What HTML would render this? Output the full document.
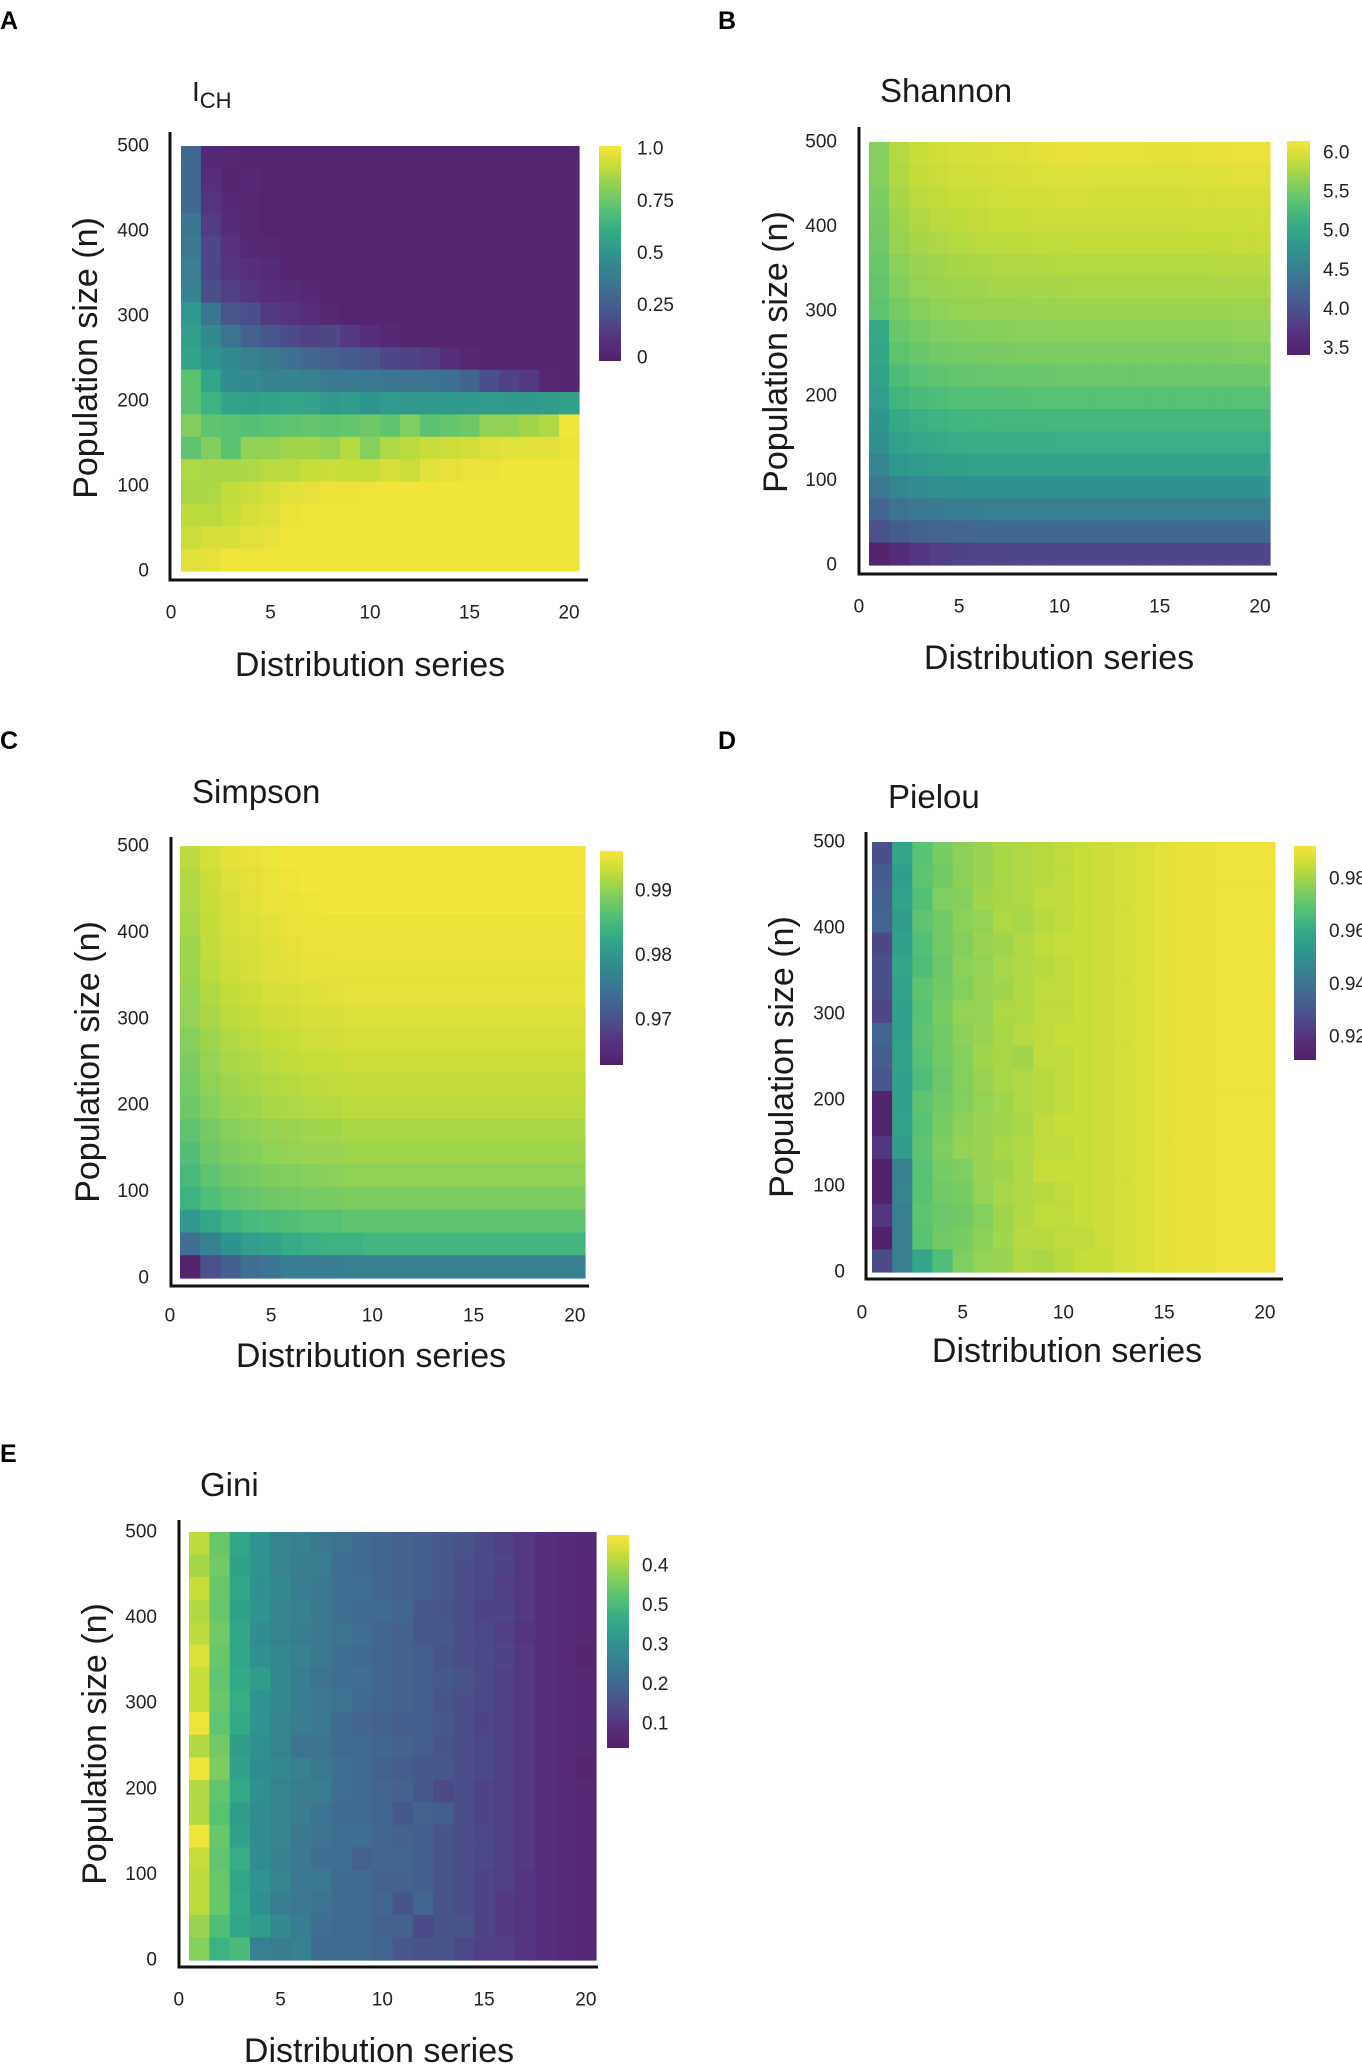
<!DOCTYPE html>
<html><head><meta charset="utf-8">
<style>
html,body{margin:0;padding:0;background:#fff;}
svg{display:block;font-family:"Liberation Sans",sans-serif;}
.tick{font-size:19px;fill:#222;}
.cbl{font-size:19px;fill:#222;}
.ttl{font-size:33px;fill:#1a1a1a;}
.axt{font-size:34px;fill:#1a1a1a;}
.let{font-size:25px;font-weight:bold;fill:#000;}
</style></head>
<body>
<svg id="fig" width="1362" height="2066" viewBox="0 0 1362 2066" xmlns="http://www.w3.org/2000/svg">
<defs></defs>
</svg>
<script>
// ---- shared axis data ----
const xTicks = [0, 5, 10, 15, 20];
const yTicks = [0, 100, 200, 300, 400, 500];
const nCols = 20;

// ---- Panel A: I_CH ----
const ichDomain = [-0.015, 1.015];
const ichCbTicks = [1.0, 0.75, 0.5, 0.25, 0];
const ichCbLabels = ["1.0", "0.75", "0.5", "0.25", "0"];
const ichData = [
[.30,.05,.03,.02,.02,.02,.02,.02,.02,.02,.02,.02,.02,.02,.02,.02,.02,.02,.02,.02],
[.30,.08,.02,.04,.02,.02,.02,.02,.02,.02,.02,.02,.02,.02,.02,.02,.02,.02,.02,.02],
[.30,.10,.04,.03,.02,.02,.02,.02,.02,.02,.02,.02,.02,.02,.02,.02,.02,.02,.02,.02],
[.36,.13,.06,.03,.02,.02,.02,.02,.02,.02,.02,.02,.02,.02,.02,.02,.02,.02,.02,.02],
[.38,.17,.09,.05,.03,.02,.02,.02,.02,.02,.02,.02,.02,.02,.02,.02,.02,.02,.02,.02],
[.40,.17,.10,.08,.06,.02,.02,.02,.02,.02,.02,.02,.02,.02,.02,.02,.02,.02,.02,.02],
[.42,.20,.14,.10,.07,.06,.04,.02,.02,.02,.02,.02,.02,.02,.02,.02,.02,.02,.02,.02],
[.52,.36,.22,.20,.12,.10,.07,.03,.02,.02,.02,.02,.02,.02,.02,.02,.02,.02,.02,.02],
[.55,.45,.35,.27,.22,.18,.15,.17,.12,.08,.04,.02,.02,.02,.02,.02,.02,.02,.02,.02],
[.57,.50,.45,.40,.38,.34,.30,.27,.25,.22,.17,.15,.13,.08,.03,.02,.02,.02,.02,.02],
[.72,.58,.47,.45,.42,.42,.40,.38,.38,.37,.36,.35,.35,.34,.28,.20,.15,.12,.03,.02],
[.72,.64,.57,.56,.57,.58,.57,.52,.54,.50,.53,.52,.52,.52,.52,.53,.52,.52,.53,.56],
[.80,.73,.72,.71,.72,.73,.74,.73,.74,.76,.73,.80,.72,.74,.76,.83,.83,.86,.88,1.0],
[.73,.80,.72,.83,.83,.86,.86,.84,.89,.81,.88,.90,.92,.93,.94,.96,.97,.97,.97,.99],
[.88,.87,.87,.88,.90,.90,.92,.93,.92,.92,.95,.93,.97,.98,.99,.99,1,1,1,1],
[.87,.88,.91,.93,.95,.97,.98,.99,.99,1,1,1,1,1,1,1,1,1,1,1],
[.90,.90,.92,.95,.96,.99,1,1,1,1,1,1,1,1,1,1,1,1,1,1],
[.93,.95,.95,.97,.98,1,1,1,1,1,1,1,1,1,1,1,1,1,1,1],
[.97,.98,1,1,1,1,1,1,1,1,1,1,1,1,1,1,1,1,1,1]
];

// ---- Panel B: Shannon ----
const shannonDomain = [3.42, 6.15];
const shannonCbTicks = [6.0, 5.5, 5.0, 4.5, 4.0, 3.5];
const shannonCbLabels = ["6.0", "5.5", "5.0", "4.5", "4.0", "3.5"];
const shannonData = [
[5.60,5.82,5.90,5.95,5.97,5.99,6.00,6.02,6.04,6.06,6.06,6.05,6.05,6.05,6.04,6.04,6.05,6.06,6.08,6.08],
[5.60,5.80,5.88,5.92,5.94,5.96,5.98,5.99,6.00,6.01,6.01,6.00,6.00,6.00,6.00,6.00,6.01,6.02,6.03,6.03],
[5.55,5.76,5.84,5.88,5.90,5.92,5.94,5.95,5.96,5.97,5.97,5.96,5.96,5.96,5.96,5.96,5.97,5.97,5.98,5.98],
[5.52,5.72,5.80,5.84,5.86,5.88,5.90,5.91,5.92,5.92,5.92,5.92,5.92,5.92,5.92,5.92,5.93,5.93,5.93,5.94],
[5.50,5.68,5.76,5.80,5.82,5.84,5.85,5.86,5.87,5.87,5.88,5.88,5.88,5.88,5.88,5.88,5.88,5.88,5.89,5.89],
[5.45,5.62,5.70,5.74,5.76,5.78,5.80,5.80,5.81,5.82,5.82,5.82,5.82,5.82,5.82,5.82,5.82,5.83,5.83,5.83],
[5.42,5.58,5.66,5.70,5.72,5.73,5.75,5.75,5.76,5.76,5.77,5.77,5.77,5.77,5.77,5.77,5.77,5.77,5.78,5.78],
[5.38,5.52,5.60,5.64,5.66,5.68,5.69,5.70,5.70,5.71,5.71,5.71,5.71,5.71,5.71,5.71,5.71,5.71,5.72,5.72],
[5.05,5.45,5.52,5.56,5.58,5.60,5.61,5.62,5.62,5.63,5.63,5.63,5.63,5.63,5.63,5.63,5.63,5.63,5.64,5.64],
[5.00,5.38,5.45,5.49,5.51,5.52,5.53,5.54,5.54,5.55,5.55,5.55,5.55,5.55,5.55,5.55,5.55,5.55,5.56,5.56],
[4.95,5.28,5.36,5.40,5.42,5.43,5.44,5.45,5.45,5.46,5.46,5.46,5.46,5.46,5.46,5.46,5.46,5.46,5.46,5.47],
[4.90,5.18,5.26,5.30,5.32,5.33,5.34,5.34,5.35,5.35,5.35,5.35,5.35,5.35,5.35,5.35,5.35,5.35,5.35,5.35],
[4.80,5.05,5.12,5.16,5.18,5.19,5.20,5.20,5.20,5.21,5.21,5.21,5.21,5.21,5.21,5.21,5.21,5.21,5.21,5.21],
[4.72,4.95,5.02,5.06,5.08,5.09,5.10,5.10,5.10,5.11,5.11,5.11,5.11,5.11,5.11,5.11,5.11,5.11,5.11,5.11],
[4.60,4.82,4.88,4.92,4.94,4.95,4.96,4.96,4.96,4.97,4.97,4.97,4.97,4.97,4.97,4.97,4.97,4.97,4.97,4.97],
[4.45,4.62,4.68,4.72,4.74,4.75,4.76,4.76,4.76,4.76,4.76,4.76,4.76,4.76,4.76,4.76,4.76,4.76,4.76,4.76],
[4.22,4.38,4.44,4.48,4.50,4.51,4.52,4.52,4.52,4.52,4.52,4.52,4.52,4.52,4.52,4.52,4.52,4.52,4.52,4.52],
[4.00,4.12,4.18,4.22,4.24,4.25,4.26,4.26,4.26,4.26,4.26,4.26,4.26,4.26,4.26,4.26,4.26,4.26,4.26,4.26],
[3.45,3.60,3.75,3.82,3.86,3.88,3.89,3.90,3.90,3.90,3.90,3.90,3.90,3.90,3.90,3.90,3.90,3.90,3.90,3.90]
];

// ---- Panel C: Simpson ----
const simpsonDomain = [0.963, 0.9962];
const simpsonCbTicks = [0.99, 0.98, 0.97];
const simpsonCbLabels = ["0.99", "0.98", "0.97"];
const simpsonData = [
[.9925,.9940,.9948,.9952,.9956,.996,.996,.996,.996,.996,.996,.996,.996,.996,.996,.996,.996,.996,.996,.996],
[.992,.9935,.9945,.995,.9953,.9957,.996,.996,.996,.996,.996,.996,.996,.996,.996,.996,.996,.996,.996,.996],
[.9918,.9933,.9943,.9948,.9952,.9955,.9957,.996,.996,.996,.996,.996,.996,.996,.996,.996,.996,.996,.996,.996],
[.9915,.993,.994,.9945,.9948,.9952,.9955,.9955,.9955,.9955,.9955,.9955,.9955,.9955,.9955,.9955,.9955,.9955,.9955,.9955],
[.991,.9928,.9937,.9942,.9946,.995,.9952,.9953,.9955,.9955,.9955,.9955,.9955,.9955,.9955,.9955,.9955,.9955,.9955,.9955],
[.991,.9925,.9935,.994,.9944,.9947,.995,.995,.995,.995,.995,.995,.995,.995,.995,.995,.995,.995,.995,.995],
[.9905,.992,.993,.9935,.994,.9943,.9946,.9947,.995,.995,.995,.995,.995,.995,.995,.995,.995,.995,.995,.995],
[.9903,.9917,.9926,.993,.9935,.9938,.9941,.9942,.9945,.9945,.9945,.9945,.9945,.9945,.9945,.9945,.9945,.9945,.9945,.9945],
[.9895,.991,.992,.9925,.993,.9933,.9936,.9937,.994,.994,.994,.994,.994,.994,.994,.994,.994,.994,.994,.994],
[.989,.9905,.9915,.992,.9925,.9928,.9931,.9932,.9935,.9935,.9935,.9935,.9935,.9935,.9935,.9935,.9935,.9935,.9935,.9935],
[.9885,.990,.991,.9915,.992,.9923,.9926,.9927,.993,.993,.993,.993,.993,.993,.993,.993,.993,.993,.993,.993],
[.988,.9895,.9905,.991,.9915,.9918,.9921,.9922,.9925,.9925,.9925,.9925,.9925,.9925,.9925,.9925,.9925,.9925,.9925,.9925],
[.987,.9885,.9895,.990,.9905,.9908,.9911,.9912,.9915,.9915,.9915,.9915,.9915,.9915,.9915,.9915,.9915,.9915,.9915,.9915],
[.986,.988,.989,.9895,.990,.9903,.9906,.9907,.991,.991,.991,.991,.991,.991,.991,.991,.991,.991,.991,.991],
[.985,.987,.988,.9885,.989,.9893,.9896,.9897,.990,.990,.990,.990,.990,.990,.990,.990,.990,.990,.990,.990],
[.984,.986,.987,.9875,.988,.9883,.9886,.9887,.989,.989,.989,.989,.989,.989,.989,.989,.989,.989,.989,.989],
[.980,.9825,.984,.985,.9855,.986,.9865,.9865,.987,.987,.987,.987,.987,.987,.987,.987,.987,.987,.987,.987],
[.974,.977,.9795,.981,.982,.983,.9835,.984,.984,.9845,.9845,.9845,.9845,.9845,.9845,.9845,.9845,.9845,.9845,.9845],
[.9635,.970,.972,.974,.975,.976,.976,.976,.9765,.9765,.9765,.9765,.9765,.9765,.9765,.9765,.9765,.9765,.9765,.9765]
];

// ---- Panel D: Pielou ----
const pielouDomain = [0.9113, 0.9925];
const pielouCbTicks = [0.98, 0.96, 0.94, 0.92];
const pielouCbLabels = ["0.98", "0.96", "0.94", "0.92"];
const pielouData = [
[.928,.958,.969,.974,.977,.979,.981,.982,.983,.984,.985,.986,.987,.988,.989,.990,.990,.991,.991,.991],
[.932,.955,.970,.973,.977,.979,.981,.982,.983,.984,.985,.986,.987,.988,.989,.990,.990,.991,.991,.991],
[.934,.957,.968,.975,.976,.980,.981,.982,.984,.984,.985,.986,.987,.988,.989,.990,.990,.991,.991,.991],
[.935,.955,.970,.973,.977,.978,.982,.981,.983,.984,.985,.986,.987,.988,.989,.990,.990,.991,.991,.991],
[.926,.956,.968,.973,.976,.979,.980,.982,.984,.985,.985,.986,.987,.988,.989,.990,.990,.991,.991,.991],
[.928,.958,.967,.972,.977,.978,.981,.982,.983,.984,.985,.986,.987,.988,.989,.990,.990,.991,.991,.991],
[.928,.957,.970,.973,.976,.979,.980,.982,.984,.984,.985,.986,.987,.988,.989,.990,.990,.991,.991,.991],
[.925,.956,.969,.974,.978,.978,.982,.982,.984,.984,.985,.986,.987,.988,.989,.990,.990,.991,.991,.991],
[.935,.956,.970,.973,.977,.979,.981,.983,.984,.985,.985,.986,.987,.988,.989,.990,.990,.991,.991,.991],
[.933,.957,.969,.973,.976,.980,.981,.980,.984,.984,.985,.986,.987,.988,.989,.990,.990,.991,.991,.991],
[.930,.956,.967,.972,.976,.979,.981,.982,.983,.984,.985,.986,.987,.988,.989,.990,.990,.991,.991,.991],
[.913,.956,.970,.973,.976,.978,.980,.982,.983,.984,.985,.986,.987,.988,.989,.990,.990,.991,.991,.991],
[.913,.957,.969,.974,.977,.979,.980,.981,.984,.985,.985,.986,.987,.988,.989,.990,.990,.991,.991,.991],
[.921,.955,.970,.975,.978,.979,.981,.982,.984,.984,.985,.986,.987,.988,.989,.990,.990,.991,.991,.991],
[.912,.944,.969,.974,.975,.979,.980,.982,.985,.985,.985,.986,.987,.988,.989,.990,.990,.991,.991,.991],
[.912,.946,.969,.973,.974,.978,.981,.982,.983,.984,.985,.986,.987,.988,.989,.990,.990,.991,.991,.991],
[.921,.944,.970,.972,.973,.976,.980,.982,.984,.984,.985,.986,.987,.988,.989,.990,.990,.991,.991,.991],
[.912,.944,.969,.973,.974,.977,.980,.983,.983,.984,.984,.986,.987,.988,.989,.990,.990,.991,.991,.991],
[.927,.944,.958,.967,.975,.978,.979,.982,.981,.983,.985,.985,.987,.988,.989,.990,.990,.991,.991,.991]
];

// ---- Panel E: Gini ----
const giniDomain = [0.04, 0.578];
const giniCbTicks = [0.5, 0.4, 0.3, 0.2, 0.1];
const giniCbLabels = ["0.4", "0.5", "0.3", "0.2", "0.1"];
const giniData = [
[.52,.44,.35,.31,.27,.26,.24,.23,.21,.20,.19,.18,.17,.16,.14,.12,.11,.09,.08,.07],
[.50,.45,.34,.31,.27,.25,.25,.22,.21,.20,.19,.18,.17,.15,.14,.13,.11,.09,.08,.07],
[.53,.44,.35,.30,.28,.25,.24,.22,.22,.20,.19,.18,.17,.15,.14,.12,.11,.09,.08,.07],
[.51,.44,.34,.31,.27,.26,.24,.22,.21,.21,.20,.17,.16,.15,.13,.13,.11,.09,.08,.07],
[.52,.45,.35,.29,.27,.25,.24,.23,.22,.20,.19,.17,.17,.15,.14,.12,.10,.09,.08,.07],
[.55,.44,.35,.30,.28,.26,.24,.22,.21,.20,.19,.18,.16,.15,.14,.13,.11,.09,.08,.06],
[.53,.43,.36,.33,.28,.25,.23,.22,.22,.20,.19,.18,.17,.16,.14,.12,.11,.09,.08,.07],
[.53,.44,.37,.31,.28,.25,.24,.23,.21,.20,.19,.18,.16,.15,.14,.12,.11,.09,.08,.07],
[.57,.43,.36,.31,.27,.25,.24,.21,.20,.19,.18,.18,.17,.15,.13,.12,.11,.09,.08,.07],
[.51,.45,.33,.30,.27,.23,.23,.21,.21,.20,.19,.18,.16,.15,.14,.12,.11,.09,.08,.07],
[.57,.46,.34,.29,.28,.26,.24,.22,.21,.19,.18,.17,.17,.15,.14,.12,.11,.09,.08,.06],
[.51,.43,.36,.30,.27,.25,.25,.22,.21,.20,.19,.17,.14,.15,.13,.12,.11,.09,.08,.07],
[.51,.42,.33,.29,.27,.25,.23,.21,.21,.20,.17,.19,.18,.15,.13,.12,.11,.09,.08,.07],
[.57,.44,.34,.29,.27,.24,.23,.22,.22,.20,.19,.18,.16,.15,.14,.12,.11,.09,.08,.07],
[.53,.43,.37,.29,.26,.24,.22,.22,.19,.20,.20,.18,.16,.15,.14,.12,.11,.09,.08,.07],
[.52,.44,.35,.31,.27,.24,.24,.21,.21,.19,.19,.18,.16,.15,.13,.12,.10,.09,.08,.07],
[.52,.44,.36,.30,.25,.24,.23,.21,.21,.20,.16,.20,.16,.15,.13,.11,.10,.09,.08,.07],
[.49,.41,.35,.33,.28,.25,.22,.21,.21,.19,.19,.14,.16,.16,.13,.11,.10,.09,.08,.07],
[.47,.38,.40,.26,.25,.26,.21,.21,.21,.20,.17,.16,.16,.14,.12,.12,.10,.09,.08,.07]
];

// ---- viridis (slightly washed, as in print) ----
const viridisStops = ["#53216a","#55307e","#4c4e8c","#416791","#377e91","#30958e","#34aa87","#54c076","#85cf5c","#c2dc3a","#f8e43a"];
function hex2rgb(h){return [parseInt(h.substr(1,2),16),parseInt(h.substr(3,2),16),parseInt(h.substr(5,2),16)];}
function viridis(t){
  t = Math.max(0, Math.min(1, t));
  const p = t * (viridisStops.length - 1);
  const i = Math.min(Math.floor(p), viridisStops.length - 2);
  const f = p - i;
  const a = hex2rgb(viridisStops[i]), b = hex2rgb(viridisStops[i+1]);
  const c = a.map((v,k)=>Math.round(v + (b[k]-v)*f));
  return "rgb(" + c.join(",") + ")";
}

const NS = "http://www.w3.org/2000/svg";
const svg = document.getElementById("fig");
function mk(tag, attrs, parent){
  const e = document.createElementNS(NS, tag);
  for (const k in attrs) e.setAttribute(k, attrs[k]);
  (parent || svg).appendChild(e);
  return e;
}

const grad = mk("linearGradient", {id:"vir", x1:"0", y1:"1", x2:"0", y2:"0"}, svg.querySelector("defs"));
viridisStops.forEach((c,i)=>{ mk("stop", {offset:(i/(viridisStops.length-1)), "stop-color":c}, grad); });

const panels = [
 {key:"ich", letter:"A", lx:0, ly:29, data:ichData, dom:ichDomain, cbT:ichCbTicks, cbL:ichCbLabels,
  hx0:181, hx1:579, hy0:146, hy1:571, vx:170, vTop:132, hy:580, hRight:588, ytR:149, xtY:613,
  cb:[599,621,146,361], cbLx:637, tx:192, ty:101, yat:[86,358], xat:[370,664], title:"ICH"},
 {key:"shannon", letter:"B", lx:718, ly:29, data:shannonData, dom:shannonDomain, cbT:shannonCbTicks, cbL:shannonCbLabels,
  hx0:869, hx1:1270, hy0:142, hy1:565, vx:859, vTop:127, hy:574, hRight:1277, ytR:837, xtY:607,
  cb:[1287,1310,141,355], cbLx:1323, tx:880, ty:102, yat:[776,352], xat:[1059,657], title:"Shannon"},
 {key:"simpson", letter:"C", lx:0, ly:749, data:simpsonData, dom:simpsonDomain, cbT:simpsonCbTicks, cbL:simpsonCbLabels,
  hx0:180, hx1:585, hy0:846, hy1:1278, vx:171, vTop:837, hy:1286, hRight:589, ytR:149, xtY:1316,
  cb:[600,623,851,1065], cbLx:635, tx:192, ty:803, yat:[88,1062], xat:[371,1355], title:"Simpson"},
 {key:"pielou", letter:"D", lx:718, ly:749, data:pielouData, dom:pielouDomain, cbT:pielouCbTicks, cbL:pielouCbLabels,
  hx0:872, hx1:1275, hy0:842, hy1:1272, vx:866, vTop:832, hy:1279, hRight:1283, ytR:845, xtY:1313,
  cb:[1294,1316,846,1060], cbLx:1329, tx:888, ty:808, yat:[782,1057], xat:[1067,1350], title:"Pielou"},
 {key:"gini", letter:"E", lx:0, ly:1462, data:giniData, dom:giniDomain, cbT:giniCbTicks, cbL:giniCbLabels,
  hx0:189, hx1:596, hy0:1532, hy1:1960, vx:179, vTop:1520, hy:1967, hRight:598, ytR:157, xtY:2000,
  cb:[607,629,1535,1748], cbLx:642, tx:200, ty:1496, yat:[95,1744], xat:[379,2050], title:"Gini"}
];

panels.forEach(p=>{
  const g = mk("g", {});
  
  
  const xs = v => p.hx0 + (v - 0.5) / nCols * (p.hx1 - p.hx0);
  const ys = v => p.hy1 - v / 500 * (p.hy1 - p.hy0);
  const nRows = p.data.length;
  const rowH = (p.hy1 - p.hy0) / nRows;
  const cs = v => (v - p.dom[0]) / (p.dom[1] - p.dom[0]);

  const L = mk("text", {x:p.lx, y:p.ly, class:"let"}, g);
  L.textContent = p.letter;
  
  

  const T = mk("text", {x:p.tx, y:p.ty, class:"ttl"}, g);
  
  
  if (p.key === "ich") {
    T.setAttribute("style", "font-size:28px");
    T.textContent = "I";
    const s = mk("tspan", {dy:"7", style:"font-size:22px"}, T);
    s.textContent = "CH";
  } else {
    T.textContent = p.title;
  }

  const hm = mk("g", {}, g);
  
  
  p.data.forEach((row, r)=>{
    row.forEach((v, c)=>{
      const x0 = xs(c + 0.5), x1 = xs(c + 1.5);
      const rc = mk("rect", {x:x0.toFixed(2), y:(p.hy0 + r*rowH).toFixed(2), width:(x1-x0+0.6).toFixed(2), height:(rowH+0.6).toFixed(2), fill:viridis(cs(v))}, hm);
      
      
    });
  });

  const ya = mk("line", {x1:p.vx, y1:p.vTop, x2:p.vx, y2:p.hy+1.5, stroke:"#111", "stroke-width":3}, g);
  
  
  const xa = mk("line", {x1:p.vx-1.5, y1:p.hy, x2:p.hRight, y2:p.hy, stroke:"#111", "stroke-width":3}, g);
  
  

  yTicks.forEach(v=>{
    const t = mk("text", {x:p.ytR, y:ys(v), class:"tick", "text-anchor":"end", "dominant-baseline":"central"}, g);
    t.textContent = String(v);
    
    
  });
  xTicks.forEach(v=>{
    const t = mk("text", {x:xs(v), y:p.xtY, class:"tick", "text-anchor":"middle", "dominant-baseline":"central"}, g);
    t.textContent = String(v);
    
    
  });

  const yt = mk("text", {x:p.yat[0], y:p.yat[1], class:"axt", "text-anchor":"middle", "dominant-baseline":"central", transform:"rotate(-90 "+p.yat[0]+" "+p.yat[1]+")"}, g);
  yt.textContent = "Population size (n)";
  
  
  const xt = mk("text", {x:p.xat[0], y:p.xat[1]+12, class:"axt", "text-anchor":"middle"}, g);
  xt.textContent = "Distribution series";
  
  

  const cb = p.cb;
  const bar = mk("rect", {x:cb[0], y:cb[2], width:cb[1]-cb[0], height:cb[3]-cb[2], fill:"url(#vir)"}, g);
  
  
  const cbs = v => cb[3] - cs(v) * (cb[3] - cb[2]);
  p.cbT.forEach((v,i)=>{
    const t = mk("text", {x:p.cbLx, y:cbs(v), class:"cbl", "dominant-baseline":"central"}, g);
    t.textContent = p.cbL[i];
    
    
  });
});
</script>
</body></html>
